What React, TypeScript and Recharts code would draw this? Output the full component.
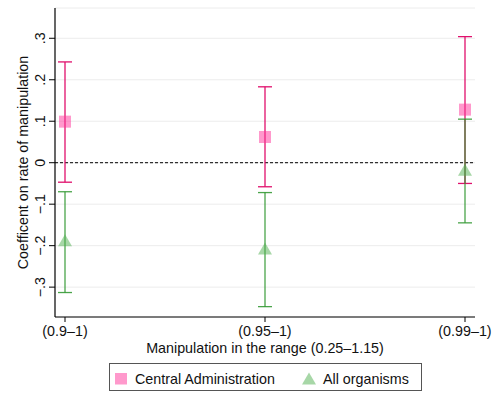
import React from 'react';
import { ComposedChart, Scatter, XAxis, YAxis, CartesianGrid, ReferenceLine, ErrorBar } from 'recharts';

const categories = ['(0.9–1)', '(0.95–1)', '(0.99–1)'];
const centralCoef = [0.099, 0.062, 0.128];
const centralLow = [-0.047, -0.058, -0.05];
const centralHigh = [0.243, 0.183, 0.304];
const allCoef = [-0.188, -0.208, -0.018];
const allLow = [-0.313, -0.347, -0.145];
const allHigh = [-0.07, -0.072, 0.105];
const yTicks = [-0.3, -0.2, -0.1, 0, 0.1, 0.2, 0.3];
const xTicks = [1, 2, 3];
const seriesNames = ['Central Administration', 'All organisms'];

const FONT = '"Liberation Sans", Arial, Helvetica, sans-serif';
const FS = 14.3;

const centralData = categories.map((c, i) => ({
  x: i + 1,
  y: centralCoef[i],
  err: [centralCoef[i] - centralLow[i], centralHigh[i] - centralCoef[i]],
}));
const allData = categories.map((c, i) => ({
  x: i + 1,
  y: allCoef[i],
  err: [allCoef[i] - allLow[i], allHigh[i] - allCoef[i]],
}));

const fmtY = (v: number) => {
  if (Math.abs(v) < 1e-9) return '0';
  const s = Math.abs(v).toFixed(1).replace(/^0/, '');
  return (v < 0 ? '\u2212' : '') + s;
};

const SquareShape = (props: any) => {
  const { cx, cy } = props;
  return <rect x={cx - 6} y={cy - 6} width={12} height={12} fill="#ff3399" fillOpacity={0.5} />;
};
const TriangleShape = (props: any) => {
  const { cx, cy } = props;
  return (
    <polygon
      points={`${cx},${cy - 6.5} ${cx - 7},${cy + 5.5} ${cx + 7},${cy + 5.5}`}
      fill="#50b050"
      fillOpacity={0.5}
    />
  );
};

const YTick = (props: any) => {
  const { x, y, payload } = props;
  return (
    <text
      x={x}
      y={y}
      transform={`rotate(-90, ${x}, ${y})`}
      textAnchor="middle"
      fontFamily={FONT}
      fontSize={FS}
      fill="#111"
    >
      {fmtY(payload.value)}
    </text>
  );
};

const XTick = (props: any) => {
  const { x, y, payload } = props;
  return (
    <text x={x} y={y} dy="0.71em" textAnchor="middle" fontFamily={FONT} fontSize={FS} fill="#111">
      {categories[payload.value - 1]}
    </text>
  );
};

const XLabel = (props: any) => {
  const vb = props.viewBox;
  return (
    <text x={vb.x + vb.width / 2} y={vb.y + 36} textAnchor="middle" fontFamily={FONT} fontSize={FS} fill="#111">
      Manipulation in the range (0.25–1.15)
    </text>
  );
};

const YLabel = (props: any) => {
  const vb = props.viewBox;
  const cx = 27.5;
  const cy = vb.y + vb.height / 2;
  return (
    <text x={cx} y={cy} transform={`rotate(-90, ${cx}, ${cy})`} textAnchor="middle" fontFamily={FONT} fontSize={FS} fill="#111">
      Coefficent on rate of manipulation
    </text>
  );
};

export default function App() {
  return (
    <div style={{ position: 'absolute', left: 0, top: 0, width: 499, height: 394, background: '#fff' }}>
      <ComposedChart width={499} height={394} margin={{ top: 8, right: 24, bottom: 0, left: 0 }}>
        <CartesianGrid horizontal={true} vertical={false} stroke="#ececec" strokeWidth={1} />
        <XAxis
          type="number"
          dataKey="x"
          domain={[0.95, 3.05]}
          ticks={xTicks}
          allowDataOverflow
          height={77}
          tickSize={5}
          tickMargin={4}
          tick={<XTick />}
          axisLine={{ stroke: '#000', strokeWidth: 1.2 }}
          tickLine={{ stroke: '#000' }}
          label={<XLabel />}
        />
        <YAxis
          type="number"
          dataKey="y"
          domain={[-0.372, 0.373]}
          ticks={yTicks}
          allowDataOverflow
          width={55}
          tickSize={6}
          tickMargin={4}
          tick={<YTick />}
          axisLine={{ stroke: '#000', strokeWidth: 1.2 }}
          tickLine={{ stroke: '#000' }}
          label={<YLabel />}
        />
        <ReferenceLine y={0} stroke="#000" strokeDasharray="3 2" strokeWidth={1} />
        <Scatter name={seriesNames[0]} data={centralData} shape={<SquareShape />} isAnimationActive={false}>
          <ErrorBar dataKey="err" direction="y" width={7} stroke="#e0106c" strokeWidth={1.3} isAnimationActive={false} />
        </Scatter>
        <Scatter name={seriesNames[1]} data={allData} shape={<TriangleShape />} isAnimationActive={false}>
          <ErrorBar dataKey="err" direction="y" width={7} stroke="#2a942a" strokeOpacity={0.85} strokeWidth={1.3} isAnimationActive={false} />
        </Scatter>
      </ComposedChart>
      <svg width={499} height={394} style={{ position: 'absolute', left: 0, top: 0, pointerEvents: 'none' }}>
        <rect x={109.5} y={363.5} width={312} height={27} fill="#fff" stroke="#555" strokeWidth={1} />
        <rect x={115} y={373} width={12} height={11.5} fill="#ff3399" fillOpacity={0.5} />
        <text x={135} y={383.5} fontFamily={FONT} fontSize={FS} fill="#111">{seriesNames[0]}</text>
        <polygon points="309,372.5 302,384.5 316,384.5" fill="#50b050" fillOpacity={0.5} />
        <text x={323} y={383.5} fontFamily={FONT} fontSize={FS} fill="#111">{seriesNames[1]}</text>
      </svg>
    </div>
  );
}
